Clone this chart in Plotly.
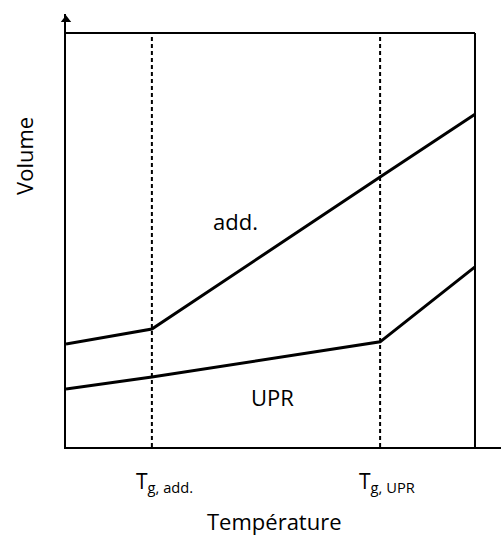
import plotly.graph_objects as go

# Data (schematic units)
temperature = [0, 21.0, 76.8, 100]
volume_add = [24.9, 28.5, 65.2, 80.4]
volume_upr = [14.0, 16.9, 25.4, 43.5]
tg_values = [21.0, 76.8]
tg_labels = ["T<sub>g, add.</sub>", "T<sub>g, UPR</sub>"]
curve_labels = ["add.", "UPR"]

FONT = "Open Sans"
fig = go.Figure()

fig.add_trace(go.Scatter(x=temperature, y=volume_add, mode="lines",
                         line=dict(color="black", width=3), showlegend=False))
fig.add_trace(go.Scatter(x=temperature, y=volume_upr, mode="lines",
                         line=dict(color="black", width=3), showlegend=False))
# arrow head on the y axis
fig.add_trace(go.Scatter(x=[0], y=[103.2], mode="markers",
                         marker=dict(symbol="triangle-up", size=9, color="black"),
                         cliponaxis=False, showlegend=False))

# frame (top and right)
fig.add_shape(type="line", x0=0, x1=100, y0=100, y1=100, line=dict(color="black", width=2))
fig.add_shape(type="line", x0=100, x1=100, y0=0, y1=100, line=dict(color="black", width=2))
for tg in tg_values:
    fig.add_shape(type="line", x0=tg, x1=tg, y0=0, y1=100,
                  line=dict(color="black", width=2, dash="4px,3px"))

# curve labels
fig.add_annotation(x=41.4, y=54.6, text=curve_labels[0], showarrow=False,
                   xanchor="center", yanchor="middle",
                   font=dict(family=FONT, size=22, color="black"))
fig.add_annotation(x=50.4, y=12.1, text=curve_labels[1], showarrow=False,
                   xanchor="center", yanchor="middle",
                   font=dict(family=FONT, size=22, color="black"))

# Tg labels
shifts = [13, 7]
for tg, lab, sh in zip(tg_values, tg_labels, shifts):
    fig.add_annotation(x=tg, y=-0.08, yref="paper", text=lab, showarrow=False,
                       xanchor="center", yanchor="middle", xshift=sh,
                       font=dict(family=FONT, size=21, color="black"))

# axis titles
fig.add_annotation(x=51.1, y=-0.17, yref="paper", text="Température", showarrow=False,
                   xanchor="center", yanchor="middle",
                   font=dict(family=FONT, size=22, color="black"))
fig.add_annotation(x=-0.0966, xref="paper", y=70.3, text="Volume", showarrow=False,
                   xanchor="center", yanchor="middle", textangle=-90,
                   font=dict(family=FONT, size=22, color="black"))

fig.update_layout(
    width=501, height=535,
    margin=dict(l=66, r=0, t=14, b=88),
    paper_bgcolor="white", plot_bgcolor="white",
    xaxis=dict(range=[0, 106.36], showline=True, linecolor="black", linewidth=2,
               showgrid=False, zeroline=False, showticklabels=False, ticks=""),
    yaxis=dict(range=[0, 104.6], showline=True, linecolor="black", linewidth=2,
               showgrid=False, zeroline=False, showticklabels=False, ticks=""),
)

fig.write_html("out.html")
